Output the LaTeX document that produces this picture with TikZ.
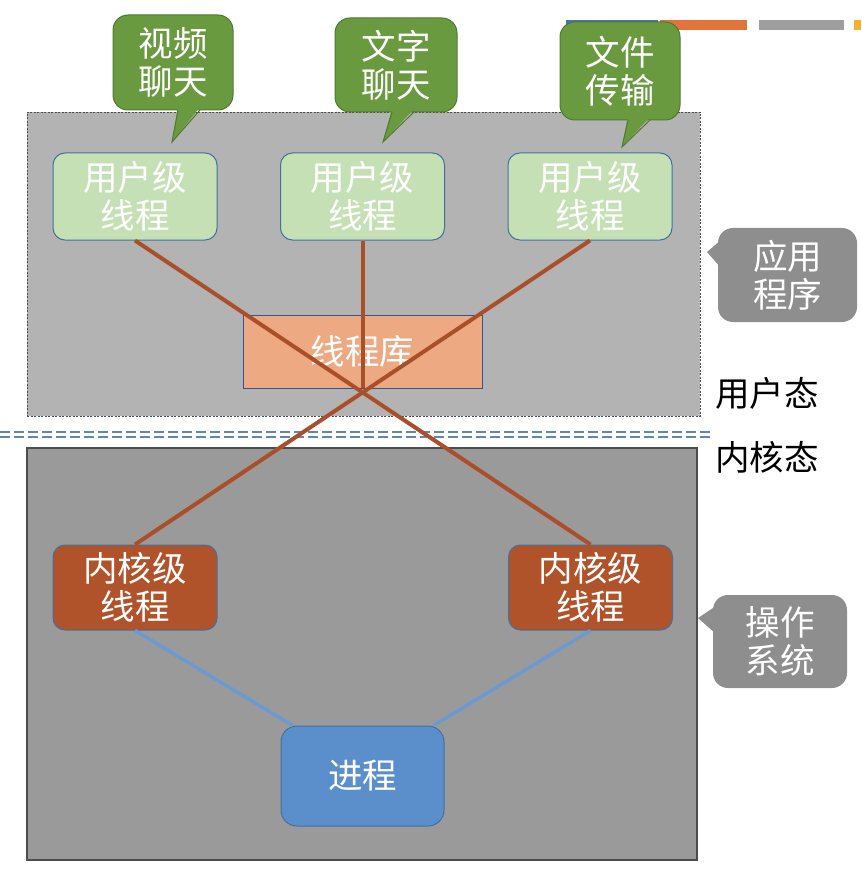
\documentclass[tikz,border=0pt]{standalone}
\usepackage{fontspec}
\newfontfamily\cjk{Noto Sans CJK SC}
\usetikzlibrary{calc}
\definecolor{topfill}{HTML}{B3B3B3}
\definecolor{botfill}{HTML}{9A9A9A}
\definecolor{boxedge}{HTML}{4D4D4D}
\definecolor{ugreen}{HTML}{C5E0B4}
\definecolor{nodeedge}{HTML}{41719C}
\definecolor{libfill}{HTML}{EDA982}
\definecolor{libedge}{HTML}{2F5597}
\definecolor{kfill}{HTML}{B0532A}
\definecolor{brownline}{HTML}{A9502A}
\definecolor{pfill}{HTML}{5B8FCB}
\definecolor{blueline}{HTML}{6A9AD0}
\definecolor{cgreen}{HTML}{6A9A3F}
\definecolor{cgreenedge}{HTML}{4E7A2E}
\definecolor{cgray}{HTML}{8E8E8E}
\definecolor{sepblue}{HTML}{5E86B5}
\definecolor{barblue}{HTML}{4472C4}
\definecolor{barorange}{HTML}{E0743A}
\definecolor{bargray}{HTML}{9E9E9E}
\definecolor{baryellow}{HTML}{F5B12E}
\tikzset{
  txt/.style={font={\cjk\fontsize{34.5}{38}\selectfont}, align=center, text=white, inner sep=0pt},
  uthread/.style={txt, draw=nodeedge, line width=1pt, fill=ugreen, rounded corners=12pt, minimum width=164pt, minimum height=87pt},
  kthread/.style={txt, draw=nodeedge, line width=1pt, fill=kfill, rounded corners=12pt, minimum width=164pt, minimum height=85pt},
  procbox/.style={txt, draw=nodeedge, line width=1pt, fill=pfill, rounded corners=16pt, minimum width=163pt, minimum height=100pt},
  libbox/.style={txt, draw=libedge, line width=0.8pt, fill=libfill, minimum width=239pt, minimum height=73pt},
  gcall/.style={txt, draw=cgreenedge, line width=1pt, fill=cgreen, rounded corners=15pt},
  gtail/.style={fill=cgreen},
  gtailedge/.style={draw=cgreenedge, line width=1pt},
  graycall/.style={txt, fill=cgray, rounded corners=15pt},
  brown/.style={draw=brownline, line width=4pt},
  bluel/.style={draw=blueline, line width=3.5pt},
  sep/.style={draw=sepblue, line width=2pt, dash pattern=on 10pt off 4pt},
  statelabel/.style={font={\cjk\fontsize{34.5}{38}\selectfont}, text=black, inner sep=0pt},
}
\begin{document}
\begin{tikzpicture}[x=1pt, y=-1pt]
\useasboundingbox (0,0) rectangle (861,877);
% slide decoration bars
\fill[barblue] (566,20) rectangle (658,30);
\fill[barorange] (660,20) rectangle (747,30);
\fill[bargray] (759,20) rectangle (844,30);
\fill[baryellow] (854,20) rectangle (861,30);
% regions
\node[draw=boxedge, line width=1.5pt, fill=botfill, minimum width=670pt, minimum height=412pt, inner sep=0pt] (kern) at (362,654) {};
\node[draw=boxedge, line width=0.8pt, dash pattern=on 2pt off 1.5pt, fill=topfill, minimum width=673pt, minimum height=304pt, inner sep=0pt] (app) at (363.5,264) {};
% separator
\coordinate (s1a) at (0,432); \coordinate (s1b) at (712,432);
\coordinate (s2a) at (0,437); \coordinate (s2b) at (712,437);
\draw[sep] (s1a) -- (s1b);
\draw[sep] (s2a) -- (s2b);
% nodes
\node[libbox] (lib) at (362.5,351.5) {线程库};
\node[uthread] (u1) at (135,196.5) {用户级\\线程};
\node[uthread] (u2) at (362.5,196.5) {用户级\\线程};
\node[uthread] (u3) at (590,196.5) {用户级\\线程};
\node[kthread] (k1) at (135,587.5) {内核级\\线程};
\node[kthread] (k2) at (590.5,587.5) {内核级\\线程};
\node[procbox] (p) at (362.5,776) {进程};
% brown connectors
\draw[brown] (u1.south) -- (k2.north);
\draw[brown] (u3.south) -- (k1.north);
\draw[brown] (u2.south) -- (lib.south);
% blue connectors
\draw[bluel] (k1.south) -- ($(p.north west)+(12,0)$);
\draw[bluel] (k2.south) -- ($(p.north east)+(-11,0)$);
% green callouts
\node[gcall, minimum width=120pt, minimum height=95pt] (c1) at (173,62.5) {视频\\聊天};
\fill[gtail] (178,107) -- (172,142) -- (200,107) -- cycle;
\draw[gtailedge] (178,110) -- (172,142) -- (200,110);
\node[gcall, minimum width=122pt, minimum height=94pt] (c2) at (396,65) {文字\\聊天};
\fill[gtail] (392,109) -- (383,142) -- (414,109) -- cycle;
\draw[gtailedge] (392,112) -- (383,142) -- (414,112);
\node[gcall, minimum width=120pt, minimum height=98pt] (c3) at (620,71) {文件\\传输};
\fill[gtail] (628,117) -- (622,147) -- (650,117) -- cycle;
\draw[gtailedge] (628,120) -- (622,147) -- (650,120);
% gray callouts
\node[graycall, minimum width=139pt, minimum height=94pt] (g1) at (787.5,275) {应用\\程序};
\fill[cgray] (721,240) -- (707,252) -- (721,268) -- cycle;
\node[graycall, minimum width=134pt, minimum height=93pt] (g2) at (780,641.5) {操作\\系统};
\fill[cgray] (716,606) -- (698,618) -- (716,634) -- cycle;
% state labels
\node[statelabel] (us) at (767,393) {用户态};
\node[statelabel] (ks) at (767,457) {内核态};
\end{tikzpicture}
\end{document}
